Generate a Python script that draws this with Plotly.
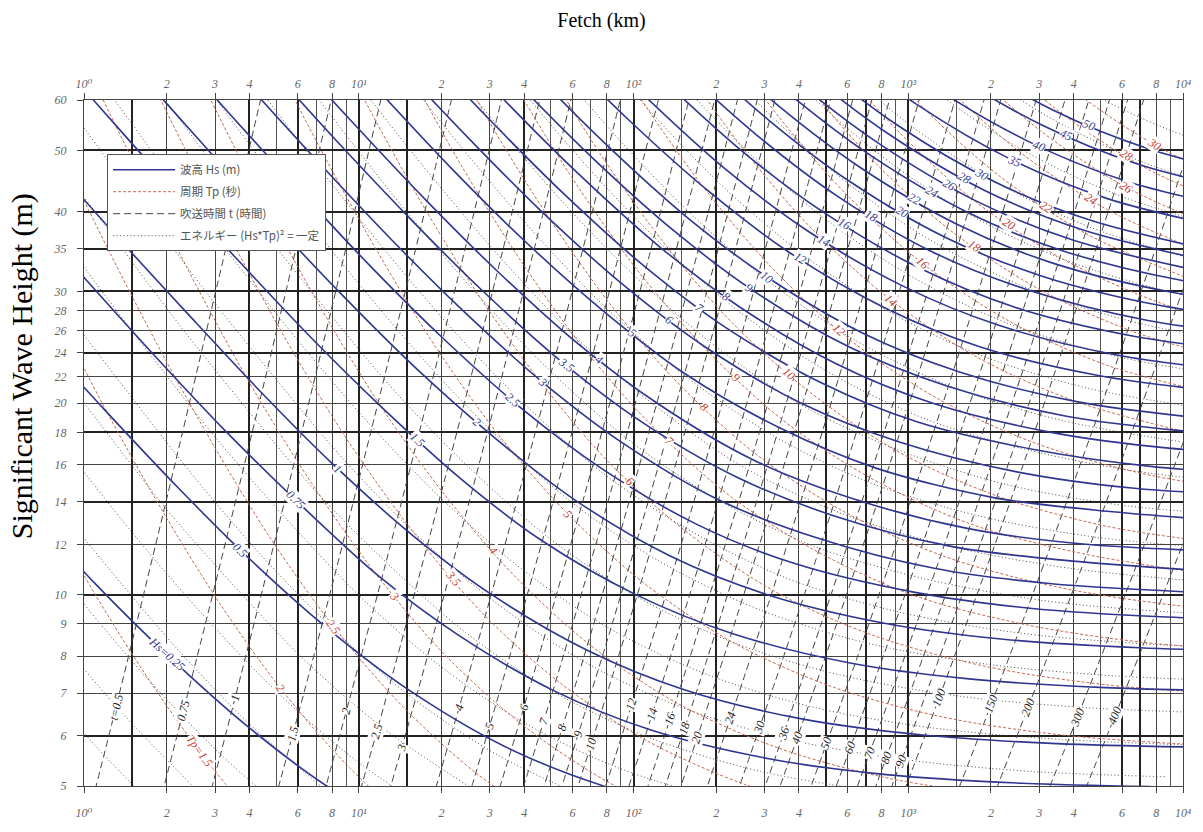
import math
import plotly.graph_objects as go

# ---------------- axis ticks ----------------
X_TICK_VALS = [1, 2, 3, 4, 6, 8, 10, 20, 30, 40, 60, 80, 100, 200, 300, 400, 600, 800,
               1000, 2000, 3000, 4000, 6000, 8000, 10000]
X_TICK_TEXT = ["10⁰", "2", "3", "4", "6", "8", "10¹", "2", "3", "4", "6", "8",
               "10²", "2", "3", "4", "6", "8", "10³", "2", "3", "4", "6", "8", "10⁴"]
X_MINOR_VALS = [1.5, 5, 7, 9, 15, 50, 70, 90, 150, 500, 700, 900, 1500, 5000, 7000, 9000]
X_HEAVY_VALS = [1.5, 4, 6, 10, 15, 40, 100, 200, 500, 700, 1000, 6000, 7000]
Y_TICK_VALS = [5, 6, 7, 8, 9, 10, 12, 14, 16, 18, 20, 22, 24, 26, 28, 30, 35, 40, 50, 60]
Y_HEAVY_VALS = [6, 10, 14, 18, 24, 30, 35, 40, 50]

# ---------------- wave height curves  Hs (m) : fetch (km) vs wind (m/s) ----------------
HS_LEVELS = [0.25, 0.5, 0.75, 1, 1.5, 2, 2.5, 3, 3.5, 4, 5, 6, 7, 8, 9, 10, 12, 14, 16, 18,
             20, 22, 24, 26, 28, 30, 35, 40, 45, 50]
HS_FETCH = [
    [0.336, 0.589, 1.10, 1.99, 3.93, 7.64, 17.0],
    [0.671, 1.18, 2.21, 3.99, 7.87, 15.3, 34.0, 76.8, 207],
    [0.547, 1.01, 1.77, 3.31, 5.98, 11.8, 22.9, 51.0, 115, 311, 832, 2604, 7622],
    [0.729, 1.34, 2.36, 4.42, 7.98, 15.7, 30.6, 68.1, 154, 414, 1109, 3472, 10162],
    [0.629, 1.09, 2.01, 3.54, 6.63, 12.0, 23.6, 45.9, 102, 230, 621, 1663, 5208, 15243],
    [0.838, 1.46, 2.69, 4.71, 8.84, 16.0, 31.5, 61.1, 136, 307, 828, 2218, 6944, 20324],
    [1.05, 1.82, 3.36, 5.89, 11.0, 19.9, 39.3, 76.4, 170, 384, 1035, 2772, 8680, 25405],
    [1.26, 2.19, 4.03, 7.07, 13.3, 23.9, 47.2, 91.7, 204, 461, 1242, 3327, 10416],
    [1.47, 2.55, 4.70, 8.25, 15.5, 27.9, 55.1, 107, 238, 538, 1449, 3881, 12152],
    [1.68, 2.92, 5.37, 9.43, 17.7, 31.9, 62.9, 122, 272, 614, 1656, 4436, 13888],
    [2.10, 3.65, 6.71, 11.8, 22.1, 39.9, 78.7, 153, 340, 768, 2070, 5545, 17360],
    [4.38, 8.06, 14.1, 26.5, 47.9, 94.4, 183, 408, 922, 2484, 6653, 20832],
    [5.10, 9.40, 16.5, 30.9, 55.8, 110, 214, 476, 1075, 2898, 7762, 24304],
    [10.7, 18.9, 35.3, 63.8, 126, 245, 544, 1229, 3312, 8871, 27776],
    [12.1, 21.2, 39.8, 71.8, 142, 275, 613, 1382, 3726, 9980, 31248],
    [13.4, 23.6, 44.2, 79.8, 157, 306, 681, 1536, 4140, 11089],
    [28.3, 53.0, 95.7, 189, 367, 817, 1843, 4968, 13307],
    [33.0, 61.9, 112, 220, 428, 953, 2150, 5796, 15525],
    [37.7, 70.7, 128, 252, 489, 1089, 2458, 6624, 17742],
    [79.5, 144, 283, 550, 1225, 2765, 7452, 19960],
    [88.4, 160, 315, 611, 1361, 3072, 8280, 22178],
    [97.2, 175, 346, 673, 1497, 3379, 9108, 24396],
    [106, 191, 378, 734, 1633, 3686, 9936, 26614],
    [207, 409, 795, 1770, 3994, 10764],
    [223, 440, 856, 1906, 4301, 11592],
    [239, 472, 917, 2042, 4608, 12420],
    [279, 551, 1070, 2382, 5376, 14490],
    [319, 629, 1223, 2722, 6144, 16560],
    [359, 708, 1376, 3063, 6912, 18630],
    [399, 787, 1529, 3403, 7680, 20700],
]
HS_WIND = [
    [18.1, 13.9, 10.4, 8.07, 6.21, 5.00, 4.08],
    [25.6, 19.6, 14.7, 11.4, 8.78, 7.07, 5.77, 5.01, 4.50],
    [42.3, 31.4, 24.0, 18.0, 14.0, 10.7, 8.65, 7.07, 6.13, 5.52, 5.21, 5.05, 4.99],
    [48.8, 36.3, 27.8, 20.8, 16.1, 12.4, 9.99, 8.17, 7.08, 6.37, 6.02, 5.83, 5.76],
    [78.5, 59.8, 44.4, 34.0, 25.5, 19.8, 15.2, 12.2, 10.0, 8.68, 7.80, 7.37, 7.14, 7.06],
    [90.6, 69.0, 51.3, 39.2, 29.4, 22.8, 17.6, 14.1, 11.5, 10.0, 9.01, 8.51, 8.25, 8.15],
    [101, 77.2, 57.3, 43.9, 32.9, 25.5, 19.6, 15.8, 12.9, 11.2, 10.1, 9.52, 9.22, 9.11],
    [111, 84.5, 62.8, 48.1, 36.0, 28.0, 21.5, 17.3, 14.1, 12.3, 11.0, 10.4, 10.1],
    [120, 91.3, 67.9, 51.9, 38.9, 30.2, 23.2, 18.7, 15.3, 13.3, 11.9, 11.3, 10.9],
    [128, 97.6, 72.5, 55.5, 41.6, 32.3, 24.8, 20.0, 16.3, 14.2, 12.7, 12.0, 11.7],
    [143, 109, 81.1, 62.1, 46.5, 36.1, 27.8, 22.3, 18.3, 15.8, 14.2, 13.5, 13.0],
    [120, 88.8, 68.0, 51.0, 39.5, 30.4, 24.5, 20.0, 17.4, 15.6, 14.7, 14.3],
    [129, 96.0, 73.4, 55.1, 42.7, 32.8, 26.4, 21.6, 18.7, 16.9, 15.9, 15.4],
    [103, 78.5, 58.9, 45.7, 35.1, 28.3, 23.1, 20.0, 18.0, 17.0, 16.5],
    [109, 83.3, 62.4, 48.4, 37.2, 30.0, 24.5, 21.3, 19.1, 18.1, 17.5],
    [115, 87.8, 65.8, 51.0, 39.2, 31.6, 25.8, 22.4, 20.1, 19.0],
    [96.1, 72.1, 55.9, 43.0, 34.6, 28.3, 24.5, 22.1, 20.9],
    [104, 77.9, 60.4, 46.4, 37.4, 30.6, 26.5, 23.8, 22.5],
    [111, 83.2, 64.6, 49.6, 40.0, 32.7, 28.3, 25.5, 24.1],
    [88.3, 68.5, 52.7, 42.4, 34.6, 30.1, 27.0, 25.5],
    [93.1, 72.2, 55.5, 44.7, 36.5, 31.7, 28.5, 26.9],
    [97.6, 75.7, 58.2, 46.9, 38.3, 33.2, 29.9, 28.2],
    [102, 79.1, 60.8, 49.0, 40.0, 34.7, 31.2, 29.5],
    [82.3, 63.3, 51.0, 41.6, 36.1, 32.5],
    [85.4, 65.7, 52.9, 43.2, 37.5, 33.7],
    [88.4, 68.0, 54.7, 44.7, 38.8, 34.9],
    [95.5, 73.4, 59.1, 48.3, 41.9, 37.7],
    [102, 78.5, 63.2, 51.7, 44.8, 40.3],
    [108, 83.2, 67.0, 54.8, 47.5, 42.7],
    [114, 87.8, 70.7, 57.7, 50.1, 45.0],
]
HS_LABEL_FETCH = [2.0, 3.7, 5.9, 8.4, 16.4, 26.9, 36.3, 46.7, 57.0, 75.2, 99.1, 135, 174, 218,
                  264, 305, 402, 495, 585, 733, 951, 1052, 1222, 1410, 1600, 1842, 2428, 2994,
                  3757, 4550]

# ---------------- wave period curves  Tp (s) ----------------
TP_LEVELS = [1.5, 2, 2.5, 3, 3.5, 4, 5, 6, 7, 8, 9, 10, 12, 14, 16, 18, 20, 22, 24, 26, 28, 30]
TP_FETCH = [
    [0.195, 0.293, 0.444, 0.682, 1.07, 1.73, 2.92, 5.19],
    [0.347, 0.520, 0.789, 1.21, 1.90, 3.08, 5.18, 9.22, 17.6],
    [0.542, 0.813, 1.23, 1.90, 2.98, 4.81, 8.10, 14.4, 27.5, 57.2],
    [0.780, 1.17, 1.78, 2.73, 4.28, 6.93, 11.7, 20.7, 39.6, 82.3, 189],
    [1.06, 1.59, 2.42, 3.72, 5.83, 9.43, 15.9, 28.2, 53.9, 112, 257, 652],
    [1.39, 2.08, 3.16, 4.85, 7.62, 12.3, 20.7, 36.9, 70.3, 146, 336, 852, 2359],
    [2.17, 3.25, 4.93, 7.58, 11.9, 19.2, 32.4, 57.6, 110, 229, 525, 1331, 3686, 10900],
    [3.12, 4.68, 7.10, 10.9, 17.1, 27.7, 46.7, 83.0, 158, 329, 756, 1916, 5308, 15696],
    [9.66, 14.9, 23.3, 37.7, 63.5, 113, 215, 448, 1028, 2608, 7225, 21364],
    [12.6, 19.4, 30.5, 49.3, 83.0, 147, 281, 585, 1343, 3407, 9437, 27904],
    [16.0, 24.6, 38.6, 62.4, 105, 187, 356, 741, 1700, 4312, 11943],
    [30.3, 47.6, 77.0, 130, 230, 440, 915, 2099, 5323, 14745],
    [43.7, 68.5, 111, 187, 332, 633, 1317, 3022, 7665, 21233],
    [93.3, 151, 254, 452, 862, 1793, 4114, 10433],
    [122, 197, 332, 590, 1126, 2342, 5373, 13627],
    [154, 249, 420, 747, 1425, 2963, 6800, 17247],
    [308, 518, 922, 1759, 3659, 8396, 21292],
    [373, 627, 1115, 2128, 4427, 10159],
    [443, 747, 1327, 2533, 5268, 12090],
    [876, 1558, 2972, 6183, 14189],
    [1016, 1807, 3447, 7171, 16455],
    [1167, 2074, 3957, 8232, 18890],
]
TP_WIND = [
    [43.7, 30.1, 20.9, 14.5, 10.2, 7.33, 5.35, 4.01],
    [58.3, 40.2, 27.8, 19.4, 13.7, 9.77, 7.13, 5.35, 4.15],
    [72.9, 50.2, 34.8, 24.2, 17.1, 12.2, 8.91, 6.68, 5.19, 4.21],
    [87.5, 60.2, 41.7, 29.1, 20.5, 14.7, 10.7, 8.02, 6.23, 5.05, 4.30],
    [102, 70.3, 48.7, 33.9, 23.9, 17.1, 12.5, 9.35, 7.27, 5.89, 5.02, 4.50],
    [117, 80.3, 55.6, 38.8, 27.3, 19.5, 14.3, 10.7, 8.30, 6.73, 5.74, 5.14, 4.81],
    [146, 100, 69.5, 48.5, 34.2, 24.4, 17.8, 13.4, 10.4, 8.42, 7.17, 6.42, 6.01, 5.81],
    [175, 120, 83.4, 58.2, 41.0, 29.3, 21.4, 16.0, 12.5, 10.1, 8.61, 7.71, 7.21, 6.97],
    [97.3, 67.9, 47.8, 34.2, 24.9, 18.7, 14.5, 11.8, 10.0, 8.99, 8.41, 8.14],
    [111, 77.6, 54.6, 39.1, 28.5, 21.4, 16.6, 13.5, 11.5, 10.3, 9.62, 9.30],
    [125, 87.3, 61.5, 44.0, 32.1, 24.1, 18.7, 15.2, 12.9, 11.6, 10.8],
    [97.0, 68.3, 48.8, 35.6, 26.7, 20.8, 16.8, 14.3, 12.8, 12.0],
    [116, 82.0, 58.6, 42.8, 32.1, 24.9, 20.2, 17.2, 15.4, 14.4],
    [95.6, 68.4, 49.9, 37.4, 29.1, 23.6, 20.1, 18.0],
    [109, 78.2, 57.0, 42.8, 33.2, 26.9, 22.9, 20.6],
    [123, 87.9, 64.2, 48.1, 37.4, 30.3, 25.8, 23.1],
    [97.7, 71.3, 53.5, 41.5, 33.7, 28.7, 25.7],
    [107, 78.4, 58.8, 45.7, 37.0, 31.6],
    [117, 85.5, 64.1, 49.8, 40.4, 34.4],
    [92.7, 69.5, 54.0, 43.8, 37.3],
    [99.8, 74.8, 58.1, 47.1, 40.2],
    [107, 80.2, 62.3, 50.5, 43.0],
]
TP_LABEL_FETCH = [2.64, 5.18, 8.1, 13.5, 22.0, 30.7, 57.6, 96.7, 135, 181, 237, 369, 561, 862,
                  1126, 1738, 2330, 3177, 4626, 6183, 6205, 7850]

# ---------------- wind duration lines  t (hours) ----------------
DUR_LEVELS = [0.5, 0.75, 1, 1.5, 2, 2.5, 3, 4, 5, 6, 7, 8, 9, 10, 12, 14, 16, 18, 20, 24, 30,
              36, 40, 50, 60, 70, 80, 90, 100, 150, 200, 300, 400]
DUR_FETCH = [
    [4.69, 3.06, 1.98, 1.26, 0.777],
    [10.6, 6.88, 4.45, 2.83, 1.75],
    [18.8, 12.2, 7.92, 5.03, 3.11, 1.85],
    [27.5, 17.8, 11.3, 7.00, 4.15],
    [48.9, 31.7, 20.1, 12.4, 7.39],
    [49.5, 31.4, 19.4, 11.5, 6.49],
    [71.2, 45.3, 28.0, 16.6, 9.35],
    [127, 80.5, 49.8, 29.5, 16.6],
    [126, 77.7, 46.2, 26.0, 13.6],
    [181, 112, 66.5, 37.4, 19.6],
    [246, 152, 90.5, 50.9, 26.7],
    [322, 199, 118, 66.5, 34.9],
    [407, 252, 150, 84.2, 44.1],
    [503, 311, 185, 104, 54.5],
    [724, 448, 266, 150, 78.4, 37.7],
    [609, 362, 204, 107, 51.3],
    [796, 473, 266, 139, 67.0],
    [1007, 598, 337, 176, 84.9],
    [1244, 739, 416, 218, 105],
    [1791, 1064, 598, 314, 151],
    [2799, 1662, 935, 490, 236],
    [2393, 1346, 706, 339, 148],
    [2954, 1662, 871, 419, 183],
    [4616, 2597, 1362, 655, 286],
    [6647, 3740, 1961, 943, 411],
    [9048, 5091, 2669, 1283, 560],
    [11818, 6649, 3486, 1676, 731],
    [14957, 8415, 4412, 2121, 926, 366],
    [18465, 10389, 5446, 2619, 1143, 452],
    [23376, 12254, 5893, 2572, 1018],
    [41558, 21785, 10476, 4572, 1809],
    [49017, 23570, 10286, 4071, 1479],
    [87141, 41902, 18286, 7237, 2630],
]
DUR_WIND = [
    [67.8, 30.8, 13.9, 6.24, 2.76],
    [102, 46.2, 20.9, 9.36, 4.14],
    [136, 61.6, 27.9, 12.5, 5.52, 2.39],
    [92.4, 41.8, 18.7, 8.28, 3.59],
    [123, 55.7, 25.0, 11.0, 4.78],
    [69.6, 31.2, 13.8, 5.98, 2.52],
    [83.6, 37.5, 16.6, 7.18, 3.03],
    [111, 49.9, 22.1, 9.57, 4.04],
    [62.4, 27.6, 12.0, 5.05, 2.05],
    [74.9, 33.1, 14.4, 6.05, 2.46],
    [87.4, 38.6, 16.7, 7.06, 2.88],
    [99.9, 44.2, 19.1, 8.07, 3.29],
    [112, 49.7, 21.5, 9.08, 3.70],
    [125, 55.2, 23.9, 10.1, 4.11],
    [150, 66.2, 28.7, 12.1, 4.93, 1.92],
    [77.3, 33.5, 14.1, 5.75, 2.24],
    [88.3, 38.3, 16.1, 6.57, 2.56],
    [99.4, 43.1, 18.2, 7.39, 2.88],
    [110, 47.8, 20.2, 8.22, 3.20],
    [132, 57.4, 24.2, 9.86, 3.84],
    [166, 71.8, 30.3, 12.3, 4.81],
    [86.1, 36.3, 14.8, 5.77, 2.14],
    [95.7, 40.4, 16.4, 6.41, 2.38],
    [120, 50.5, 20.5, 8.01, 2.98],
    [144, 60.5, 24.6, 9.61, 3.57],
    [167, 70.6, 28.8, 11.2, 4.17],
    [191, 80.7, 32.9, 12.8, 4.76],
    [215, 90.8, 37.0, 14.4, 5.36, 1.89],
    [239, 101, 41.1, 16.0, 5.95, 2.11],
    [151, 61.6, 24.0, 8.93, 3.16],
    [202, 82.2, 32.0, 11.9, 4.21],
    [123, 48.1, 17.9, 6.32, 2.14],
    [164, 64.1, 23.8, 8.42, 2.85],
]
DUR_LABEL_WIND = [6.64, 6.56, 6.88, 6.04, 6.56, 6.10, 5.74, 6.64, 6.22, 6.64, 6.33, 6.17, 6.04,
                  5.82, 6.73, 6.49, 6.37, 6.17, 5.95, 6.40, 6.17, 6.04, 5.95, 5.84, 5.74, 5.64,
                  5.54, 5.47, 6.88, 6.73, 6.64, 6.40, 6.44]

# ---------------- constant energy lines (Hs*Tp)^2 = const ----------------
EN_FETCH = [
    [0.207, 0.354, 0.615, 1.09, 2.00],
    [0.261, 0.447, 0.775, 1.37, 2.52],
    [0.329, 0.563, 0.977, 1.73, 3.18, 6.13],
    [0.414, 0.709, 1.23, 2.18, 4.00, 7.72],
    [0.522, 0.893, 1.55, 2.75, 5.04, 9.73, 20.1],
    [0.388, 0.658, 1.13, 1.95, 3.46, 6.35, 12.3, 25.4],
    [0.489, 0.829, 1.42, 2.46, 4.36, 8.00, 15.4, 31.9, 72.1],
    [0.616, 1.04, 1.79, 3.10, 5.50, 10.1, 19.5, 40.2, 90.9, 226],
    [0.460, 0.776, 1.32, 2.25, 3.91, 6.92, 12.7, 24.5, 50.7, 114, 285, 773],
    [0.580, 0.977, 1.66, 2.84, 4.92, 8.72, 16.0, 30.9, 63.9, 144, 359, 974, 2833, 8613],
    [0.731, 1.23, 2.09, 3.57, 6.20, 11.0, 20.2, 38.9, 80.5, 182, 452, 1228, 3569, 10852],
    [0.921, 1.55, 2.63, 4.50, 7.81, 13.8, 25.4, 49.0, 101, 229, 569, 1547, 4497, 13672],
    [1.95, 3.31, 5.67, 9.84, 17.4, 32.0, 61.8, 128, 289, 717, 1949, 5666, 17226],
    [2.46, 4.18, 7.14, 12.4, 22.0, 40.3, 77.8, 161, 364, 904, 2455, 7138, 21704],
    [3.10, 5.26, 9.00, 15.6, 27.7, 50.8, 98.0, 203, 458, 1138, 3093, 8994, 27340],
    [6.63, 11.3, 19.7, 34.9, 64.0, 124, 256, 577, 1434, 3897, 11331],
    [8.35, 14.3, 24.8, 44.0, 80.6, 156, 322, 727, 1807, 4910, 14276],
    [10.5, 18.0, 31.3, 55.4, 102, 196, 406, 916, 2277, 6186, 17987],
    [22.7, 39.4, 69.8, 128, 247, 511, 1154, 2869, 7794, 22663],
    [28.6, 49.6, 87.9, 161, 311, 644, 1454, 3615, 9820],
    [36.0, 62.5, 111, 203, 392, 811, 1832, 4554, 12373],
    [78.7, 140, 256, 494, 1022, 2308, 5738, 15589],
    [99.2, 176, 323, 622, 1288, 2908, 7229, 19641],
    [222, 406, 784, 1623, 3664, 9108, 24746],
    [279, 512, 988, 2044, 4616, 11475],
    [352, 645, 1245, 2576, 5816, 14458],
    [813, 1569, 3245, 7328, 18217],
    [1024, 1976, 4089, 9233, 22951],
]
EN_WIND = [
    [14.3, 10.5, 7.76, 5.81, 4.43],
    [16.0, 11.8, 8.72, 6.53, 4.97],
    [17.95, 13.2, 9.78, 7.32, 5.58, 4.36],
    [20.2, 14.8, 11.0, 8.22, 6.26, 4.89],
    [22.6, 16.6, 12.3, 9.23, 7.03, 5.49, 4.44],
    [34.7, 25.4, 18.7, 13.8, 10.4, 7.89, 6.16, 4.98],
    [38.9, 28.5, 21.0, 15.5, 11.6, 8.86, 6.92, 5.60, 4.73],
    [43.7, 32.0, 23.5, 17.4, 13.1, 9.94, 7.76, 6.28, 5.31, 4.71],
    [67.2, 49.0, 35.9, 26.4, 19.6, 14.6, 11.2, 8.72, 7.05, 5.96, 5.28, 4.90],
    [75.4, 55.0, 40.3, 29.6, 22.0, 16.4, 12.5, 9.78, 7.91, 6.69, 5.93, 5.50, 5.27, 5.17],
    [84.6, 61.8, 45.2, 33.3, 24.7, 18.5, 14.1, 11.0, 8.88, 7.51, 6.65, 6.17, 5.92, 5.80],
    [95.0, 69.3, 50.8, 37.3, 27.7, 20.7, 15.8, 12.3, 9.97, 8.42, 7.47, 6.92, 6.64, 6.51],
    [77.8, 57.0, 41.9, 31.1, 23.3, 17.7, 13.8, 11.2, 9.46, 8.38, 7.77, 7.45, 7.31],
    [87.4, 64.0, 47.1, 34.9, 26.1, 19.9, 15.5, 12.6, 10.6, 9.41, 8.72, 8.37, 8.20],
    [98.1, 71.8, 52.8, 39.1, 29.3, 22.3, 17.4, 14.1, 11.9, 10.6, 9.79, 9.39, 9.21],
    [80.6, 59.3, 43.9, 32.9, 25.0, 19.6, 15.8, 13.4, 11.9, 11.0, 10.5],
    [90.5, 66.5, 49.3, 36.9, 28.1, 22.0, 17.8, 15.0, 13.3, 12.3, 11.8],
    [102, 74.7, 55.3, 41.4, 31.6, 24.7, 19.9, 16.9, 14.9, 13.8, 13.3],
    [83.8, 62.1, 46.5, 35.4, 27.7, 22.4, 18.9, 16.8, 15.5, 14.9],
    [94.1, 69.7, 52.2, 39.8, 31.1, 25.1, 21.2, 18.8, 17.4],
    [106, 78.3, 58.6, 44.6, 34.9, 28.2, 23.8, 21.1, 19.6],
    [87.9, 65.8, 50.1, 39.1, 31.7, 26.7, 23.7, 22.0],
    [98.6, 73.8, 56.2, 43.9, 35.5, 30.0, 26.6, 24.7],
    [82.9, 63.1, 49.3, 39.9, 33.7, 29.9, 27.7],
    [93.0, 70.9, 55.3, 44.8, 37.8, 33.5],
    [104, 79.5, 62.1, 50.2, 42.5, 37.6],
    [89.3, 69.7, 56.4, 47.7, 42.3],
    [100, 78.3, 63.3, 53.5, 47.4],
]

# ---------------- styling ----------------
SERIF = "Liberation Serif, DejaVu Serif, serif"
CJK = "Noto Sans CJK JP"
H_COLOR = "#2f3690"
T_COLOR = "#c4684f"
D_COLOR = "#444444"
E_COLOR = "#3a3a3a"

X_LO, X_HI = 1, 10000
Y_LO, Y_HI = 5, 60
PLOT_W, PLOT_H = 1101, 686
KX = PLOT_W / (math.log10(X_HI) - math.log10(X_LO))
KY = PLOT_H / (math.log10(Y_HI) - math.log10(Y_LO))


def fmt(v):
    return ("%g" % v)


def on_curve(F, U, f=None, u=None):
    lf = [math.log10(v) for v in F]
    lu = [math.log10(v) for v in U]
    key = lf if f is not None else lu
    target = math.log10(f if f is not None else u)
    for i in range(len(key) - 1):
        a, b = key[i], key[i + 1]
        if min(a, b) <= target <= max(a, b) and a != b:
            t = (target - a) / (b - a)
            x = lf[i] + t * (lf[i + 1] - lf[i])
            y = lu[i] + t * (lu[i + 1] - lu[i])
            dx = (lf[i + 1] - lf[i]) * KX
            dy = (lu[i + 1] - lu[i]) * KY
            if dx < 0:
                dx, dy = -dx, -dy
            ang = -math.degrees(math.atan2(dy, dx))
            return x, y, ang
    return None


fig = go.Figure()


def add_family(fetches, winds, name, color, width, dash, rank):
    for i, (F, U) in enumerate(zip(fetches, winds)):
        fig.add_trace(go.Scatter(
            x=F, y=U, mode="lines", name=name, legendgroup=name, legendrank=rank,
            showlegend=(i == 0), hoverinfo="skip",
            line=dict(color=color, width=width, dash=dash, shape="spline", smoothing=0.9),
        ))


add_family(EN_FETCH, EN_WIND, "エネルギー (Hs*Tp)² = 一定", E_COLOR, 0.9, "1px,2.5px", 4)
add_family(DUR_FETCH, DUR_WIND, "吹送時間 t (時間)", D_COLOR, 1.0, "7px,4px", 3)
add_family(TP_FETCH, TP_WIND, "周期 Tp (秒)", T_COLOR, 1.0, "3px,2px", 2)
add_family(HS_FETCH, HS_WIND, "波高 Hs (m)", H_COLOR, 1.6, "solid", 1)

# invisible helpers so that the overlay axes (top ticks, heavy grid lines) are drawn
fig.add_trace(go.Scatter(x=[X_LO, X_HI], y=[Y_LO, Y_HI], xaxis="x2", mode="markers",
                         marker=dict(opacity=0), showlegend=False, hoverinfo="skip"))
fig.add_trace(go.Scatter(x=[X_LO, X_HI], y=[Y_LO, Y_HI], xaxis="x3", yaxis="y2", mode="markers",
                         marker=dict(opacity=0), showlegend=False, hoverinfo="skip"))

annotations = []


def add_label(pos, text, color):
    if pos is None:
        return
    x, y, ang = pos
    annotations.append(dict(
        x=x, y=y, xref="x", yref="y", text=text, showarrow=False, textangle=ang,
        xanchor="center", yanchor="middle",
        font=dict(family=SERIF, size=12, color=color, style="italic"),
        bgcolor="white", borderpad=0,
    ))


for i, (lv, F, U, lf) in enumerate(zip(HS_LEVELS, HS_FETCH, HS_WIND, HS_LABEL_FETCH)):
    add_label(on_curve(F, U, f=lf), ("Hs=" if i == 0 else "") + fmt(lv), H_COLOR)
for i, (lv, F, U, lf) in enumerate(zip(TP_LEVELS, TP_FETCH, TP_WIND, TP_LABEL_FETCH)):
    add_label(on_curve(F, U, f=lf), ("Tp=" if i == 0 else "") + fmt(lv), "#c0392b")
for i, (lv, F, U, lu) in enumerate(zip(DUR_LEVELS, DUR_FETCH, DUR_WIND, DUR_LABEL_WIND)):
    add_label(on_curve(F, U, u=lu), ("t=" if i == 0 else "") + fmt(lv), "#222222")

annotations.append(dict(
    x=-0.0563, y=0.612, xref="paper", yref="paper", text="Significant Wave Height (m)",
    textangle=-90, showarrow=False, xanchor="center", yanchor="middle",
    font=dict(family=SERIF, size=30, color="black"),
))

tickfont = dict(family=SERIF, size=12, color="#666666", style="italic")
LOGX = [math.log10(X_LO), math.log10(X_HI)]
LOGY = [math.log10(Y_LO), math.log10(Y_HI)]

fig.update_layout(
    width=1203, height=832,
    margin=dict(l=84, r=18, t=100, b=46),
    paper_bgcolor="white", plot_bgcolor="white",
    title=dict(text="Fetch (km)", x=0.5, xref="container", y=0.976, yanchor="middle",
               font=dict(family=SERIF, size=20, color="black")),
    xaxis=dict(type="log", range=LOGX,
               tickmode="array", tickvals=X_TICK_VALS, ticktext=X_TICK_TEXT,
               showgrid=True, gridcolor="#444444", gridwidth=1,
               minor=dict(tickmode="array", tickvals=X_MINOR_VALS, showgrid=True,
                          gridcolor="#555555", gridwidth=0.8, ticks=""),
               ticks="outside", ticklen=6, tickcolor="#444", tickfont=tickfont,
               ticklabelstandoff=10,
               showline=True, linecolor="#444", zeroline=False),
    xaxis2=dict(type="log", range=LOGX, overlaying="x",
                side="top", matches="x", tickmode="array", tickvals=X_TICK_VALS,
                ticktext=X_TICK_TEXT, showgrid=False, ticks="outside", ticklen=6,
                tickcolor="#444", tickfont=tickfont, showline=True, linecolor="#444"),
    xaxis3=dict(type="log", range=LOGX, overlaying="x", matches="x", tickmode="array",
                tickvals=X_HEAVY_VALS, showticklabels=False, ticks="", showgrid=True,
                gridcolor="#222222", gridwidth=1.7, showline=False, zeroline=False),
    yaxis=dict(type="log", range=LOGY,
               tickmode="array", tickvals=Y_TICK_VALS, ticktext=[str(v) for v in Y_TICK_VALS],
               showgrid=True, gridcolor="#444444", gridwidth=1,
               ticks="outside", ticklen=6, tickcolor="#444", tickfont=tickfont,
               ticklabelstandoff=8,
               showline=True, linecolor="#444", zeroline=False, mirror=True),
    yaxis2=dict(type="log", range=LOGY, overlaying="y", matches="y", tickmode="array",
                tickvals=Y_HEAVY_VALS, showticklabels=False, ticks="", showgrid=True,
                gridcolor="#222222", gridwidth=1.7, showline=False, zeroline=False),
    legend=dict(x=0.021, y=0.921, xanchor="left", yanchor="top", bgcolor="white",
                bordercolor="#555", borderwidth=1,
                font=dict(family=CJK, size=11.5, color="#555"),
                itemwidth=62, tracegroupgap=3),
    annotations=annotations,
)

fig.write_html("out.html", config={"displayModeBar": False},
               post_script="document.body.style.margin='0';")
